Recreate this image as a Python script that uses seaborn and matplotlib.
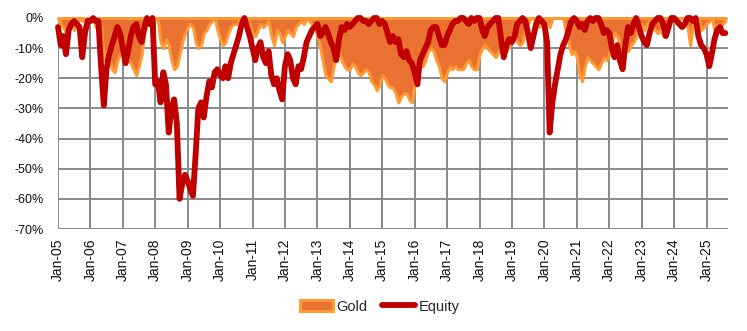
import matplotlib
matplotlib.use("Agg")
import matplotlib.pyplot as plt
import matplotlib.dates as mdates
from matplotlib.ticker import MultipleLocator, FuncFormatter
from matplotlib.patches import Patch
from matplotlib.lines import Line2D
import pandas as pd
import seaborn as sns

# Monthly drawdown from running peak (%), Jan 2005 - Aug 2025
start_month = "2005-01-01"

equity_dd = [
    -3, -9, -6, -12, -4, -2, -1, -2, -3, -13, -5, -1,          # 2005
    -1, 0, -1, -1, -16, -29, -17, -12, -9, -6, -3, -5,         # 2006
    -10, -15, -11, -6, -3, -2, -6, -8, -3, 0, -2, 0,           # 2007
    -22, -21, -28, -18, -22, -38, -30, -27, -35, -60, -55, -52,  # 2008
    -54, -57, -59, -45, -30, -28, -33, -26, -21, -23, -18, -17,  # 2009
    -19, -20, -16, -20, -15, -12, -9, -6, -2, 0, -3, -6,       # 2010
    -10, -14, -10, -8, -13, -15, -11, -19, -22, -20, -24, -27,  # 2011
    -16, -12, -14, -20, -22, -16, -17, -13, -8, -6, -4, -3,    # 2012
    -2, -6, -5, -3, -5, -8, -10, -14, -7, -3, -4, -2,          # 2013
    -3, -2, -1, 0, 0, -1, -1, -2, -1, 0, 0, -2,                # 2014
    -1, -2, -5, -8, -6, -8, -7, -12, -13, -11, -14, -15,       # 2015
    -18, -22, -14, -12, -10, -8, -4, -3, -3, -6, -9, -9,       # 2016
    -6, -4, -2, -1, -1, 0, 0, -1, -2, 0, -1, 0,                # 2017
    0, -4, -6, -3, -2, -1, 0, 0, -7, -13, -9, -7,              # 2018
    -8, -6, -2, -1, 0, -1, -5, -10, -6, -2, 0, -1,             # 2019
    -2, -8, -38, -28, -22, -17, -12, -9, -7, -4, -1, 0,        # 2020
    -1, -3, -2, -4, -1, 0, -1, 0, 0, -2, -5, -4,               # 2021
    -5, -10, -13, -9, -14, -17, -9, -3, -5, -2, 0, -3,         # 2022
    -6, -8, -9, -5, -2, -1, 0, 0, -2, -6, -3, 0,               # 2023
    0, -1, -2, -3, -2, 0, 0, -1, 0, -6, -9, -10,               # 2024
    -12, -16, -12, -7, -4, -3, -5, -5,                         # 2025
]

gold_dd = [
    0, -2, -3, -5, -3, -2, -4, -2, 0, -1, 0, 0,                # 2005
    0, 0, -3, 0, -3, -14, -11, -13, -17, -18, -14, -12,        # 2006
    -12, -10, -14, -15, -17, -19, -16, -12, -5, -2, 0, -1,     # 2007
    0, -1, -8, -10, -7, -9, -14, -17, -16, -12, -8, -5,        # 2008
    -3, -2, -3, -8, -10, -9, -5, -4, -2, -1, 0, -4,            # 2009
    -7, -9, -8, -5, -3, -2, -2, -1, 0, 0, 0, -2,               # 2010
    -5, -6, -4, -2, -3, -2, -1, -6, -9, -4, -5, -8,            # 2011
    -6, -4, -5, -6, -3, -2, -1, -2, 0, -1, -2, -3,             # 2012
    -6, -10, -14, -19, -20, -21, -16, -13, -11, -14, -16, -17,  # 2013
    -17, -15, -16, -18, -19, -18, -17, -18, -21, -22, -24, -22,  # 2014
    -19, -20, -22, -23, -23, -25, -28, -26, -25, -25, -27, -28,  # 2015
    -22, -17, -15, -16, -14, -11, -10, -11, -14, -16, -20, -21,  # 2016
    -18, -16, -17, -16, -17, -17, -17, -15, -14, -16, -17, -17,  # 2017
    -12, -10, -9, -10, -11, -12, -13, -11, -10, -8, -11, -9,   # 2018
    -7, -6, -8, -9, -8, -3, -2, 0, 0, -2, -3, -2,              # 2019
    0, -1, -3, 0, 0, 0, 0, 0, -5, -8, -12, -11,                # 2020
    -13, -19, -21, -16, -13, -14, -15, -16, -17, -15, -13, -14,  # 2021
    -12, -8, -5, -6, -9, -11, -10, -11, -9, -8, -6, -3,        # 2022
    -2, -4, -2, -1, -3, -4, -5, -4, -6, -3, -1, -1,            # 2023
    -1, -2, 0, 0, -1, -3, -9, -2, 0, 0, -4, -3,                # 2024
    -2, -1, 0, -4, -2, -3, -2, -1,                             # 2025
]

series_labels = ["Gold", "Equity"]

GOLD_FILL = "#E97132"
GOLD_EDGE = "#FF9A33"
EQUITY_RED = "#C00000"
GRID_GREY = "#8A8A8A"

dates = pd.date_range(start_month, periods=len(equity_dd), freq="MS")
df = pd.DataFrame({"date": dates, "Gold": gold_dd, "Equity": equity_dd})

sns.set_theme(style="white")
plt.rcParams["font.family"] = ["Liberation Sans", "DejaVu Sans"]

fig, ax = plt.subplots(figsize=(7.47, 3.31), dpi=100)
fig.subplots_adjust(left=58 / 747, right=728 / 747, top=1 - 18 / 331, bottom=1 - 229 / 331)

# Gold drawdown as a filled area with a lighter outline
ax.fill_between(df["date"], df["Gold"], 0, facecolor=GOLD_FILL,
                edgecolor=GOLD_EDGE, linewidth=2.2, zorder=2, clip_on=False)

# Equity drawdown as a thick line
sns.lineplot(data=df, x="date", y="Equity", ax=ax, color=EQUITY_RED,
             linewidth=4.2, zorder=3, legend=False)
eq_line = ax.lines[-1]
eq_line.set_solid_capstyle("round")
eq_line.set_solid_joinstyle("round")
eq_line.set_clip_on(False)

ax.set_ylim(-70, 0)
ax.yaxis.set_major_locator(MultipleLocator(10))
ax.yaxis.set_major_formatter(FuncFormatter(lambda v, _: f"{int(round(v))}%"))

ax.set_xlim(pd.Timestamp("2005-01-01"), pd.Timestamp("2025-08-31"))
ax.xaxis.set_major_locator(mdates.YearLocator(1, month=1, day=1))
ax.xaxis.set_major_formatter(mdates.DateFormatter("%b-%y"))
plt.setp(ax.get_xticklabels(), rotation=90)

ax.grid(True, color=GRID_GREY, linewidth=1.4)
ax.set_axisbelow(True)
for sp in ax.spines.values():
    sp.set_visible(False)

ax.tick_params(axis="y", length=0, pad=10.5, labelsize=9, labelcolor="#111111")
ax.tick_params(axis="x", length=0, pad=7, labelsize=10, labelcolor="#111111")
ax.set_xlabel("")
ax.set_ylabel("")

handles = [
    Patch(facecolor=GOLD_FILL, edgecolor=GOLD_EDGE, linewidth=2.2, label=series_labels[0]),
    Line2D([], [], color=EQUITY_RED, linewidth=4.2, solid_capstyle="round", label=series_labels[1]),
]
fig.legend(handles=handles, loc="center", bbox_to_anchor=(0.508, 0.074), ncol=2,
           frameon=False, fontsize=10.5, handlelength=2.3, handleheight=0.75,
           handletextpad=0.2, columnspacing=1.0)

fig.savefig("out.png", dpi=100)
